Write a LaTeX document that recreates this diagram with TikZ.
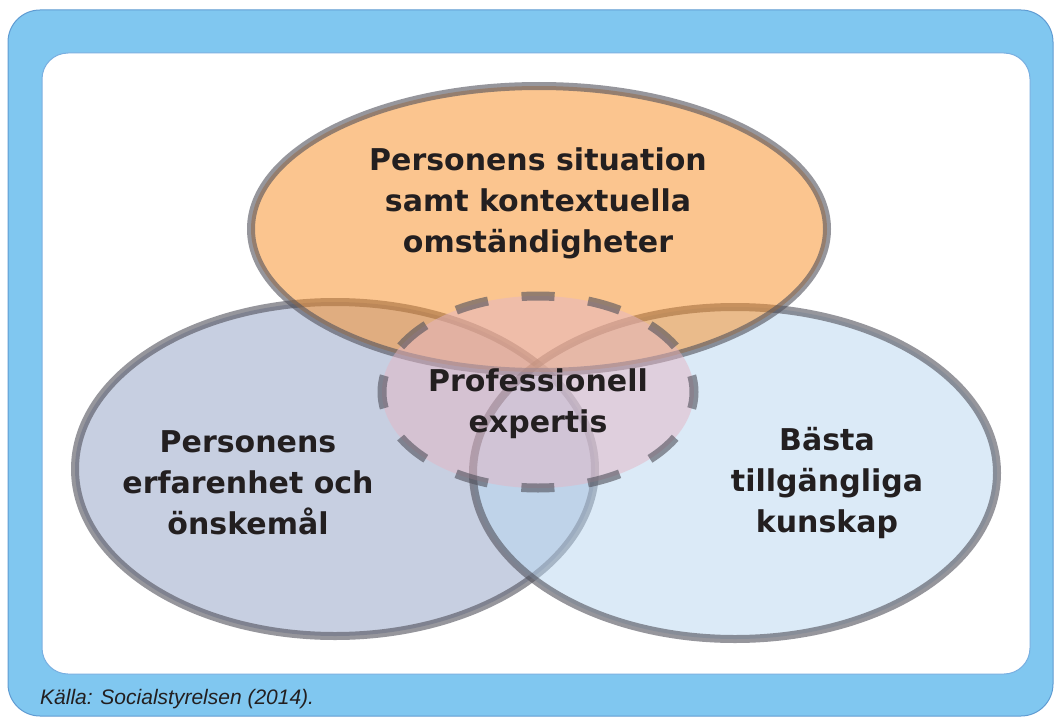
\documentclass[tikz,border=0pt]{standalone}
\usepackage{fontspec}
\setmainfont{DejaVu Sans}
\newfontfamily\kallafont{Liberation Sans}
\definecolor{ramblue}{RGB}{128,199,240}
\definecolor{ramline}{RGB}{95,155,210}
\definecolor{innerline}{RGB}{120,175,225}
\definecolor{situationfill}{RGB}{249,141,33}
\definecolor{personfill}{RGB}{145,161,197}
\definecolor{kunskapfill}{RGB}{185,215,241}
\definecolor{expertfill}{RGB}{228,182,196}
\definecolor{rimgray}{RGB}{80,80,90}
\definecolor{textdark}{RGB}{35,31,32}
\tikzset{
  every node/.style={
    inner sep=0pt
  },
  areatext/.style={
    font=\fontsize{30}{41}\selectfont\bfseries,
    text=textdark,
    align=center
  },
  rim/.style={
    draw=rimgray,
    draw opacity=0.6,
    line width=8pt,
    fill opacity=0.5
  }
}

\begin{document}
\begin{tikzpicture}[x=1pt,y=-1pt]
    \useasboundingbox (0,0) rectangle (1055,717);

    % ram
    \fill[ramblue,draw=ramline,line width=1pt,rounded corners=32pt]
        (8,10) rectangle (1053,716);
    \fill[white,draw=innerline,line width=1pt,rounded corners=26pt]
        (42,53) rectangle (1030,674);

    % ellipser
    \path[rim,fill=personfill] (335,469) ellipse [x radius=260pt,y radius=167pt];
    \path[rim,fill=kunskapfill] (735,473) ellipse [x radius=262pt,y radius=166pt];
    \path[rim,fill=situationfill] (539,229) ellipse [x radius=288pt,y radius=143pt];
    \path[rim,fill=expertfill,line width=9pt,
          dash pattern=on 33pt off 33.9pt,dash phase=16.5pt]
        (538,392) ellipse [x radius=156pt,y radius=96pt];

    % texter
    \node[areatext] (situation) at (538,203)
        {Personens situation\\samt kontextuella\\omständigheter};
    \node[areatext] (expertis) at (538,404) {Professionell\\expertis};
    \node[areatext] (erfarenhet) at (248,483)
        {Personens\\erfarenhet och\\önskemål};
    \node[areatext] (kunskap) at (827,483)
        {Bästa\\tillgängliga\\kunskap};

    % källa
    \node[anchor=base west,text=textdark,
          font=\kallafont\itshape\fontsize{21}{25}\selectfont]
        (kalla) at (40,704) {Källa: Socialstyrelsen (2014).};
\end{tikzpicture}
\end{document}
